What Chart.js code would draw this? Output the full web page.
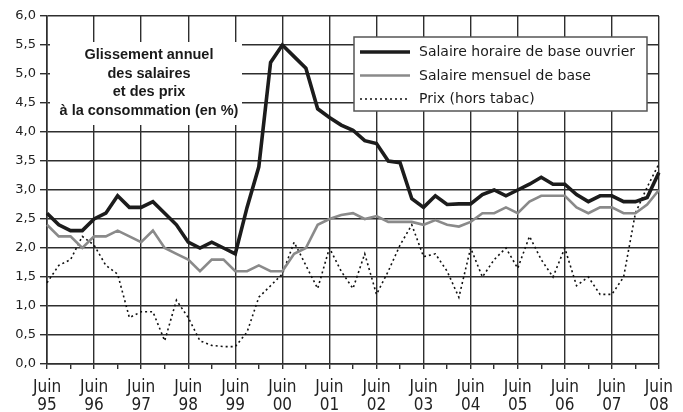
<!DOCTYPE html>
<html><head><meta charset="utf-8">
<script src="https://cdn.jsdelivr.net/npm/chart.js@4/dist/chart.umd.min.js"></script>
<style>html,body{margin:0;padding:0;background:#fff;}canvas{display:block;}</style>
</head><body>
<canvas id="c" width="683" height="412"></canvas>
<script>
const quarters = [
 '06/95','09/95','12/95',
 '03/96','06/96','09/96','12/96',
 '03/97','06/97','09/97','12/97',
 '03/98','06/98','09/98','12/98',
 '03/99','06/99','09/99','12/99',
 '03/00','06/00','09/00','12/00',
 '03/01','06/01','09/01','12/01',
 '03/02','06/02','09/02','12/02',
 '03/03','06/03','09/03','12/03',
 '03/04','06/04','09/04','12/04',
 '03/05','06/05','09/05','12/05',
 '03/06','06/06','09/06','12/06',
 '03/07','06/07','09/07','12/07',
 '03/08','06/08'
];
const monthLabel = 'Juin';
const yearLabels = ['95','96','97','98','99','00','01','02','03','04','05','06','07','08'];
const salaireHoraire = [2.6,2.4,2.3,2.3, 2.5,2.6,2.9,2.7, 2.7,2.8,2.6,2.4, 2.1,2.0,2.1,2.0,
  1.9,2.7,3.4,5.2, 5.5,5.3,5.1,4.4, 4.25,4.12,4.03,3.85, 3.8,3.5,3.47,2.85,
  2.7,2.9,2.75,2.76, 2.76,2.92,3.0,2.9, 3.0,3.1,3.22,3.1, 3.1,2.92,2.8,2.9,
  2.9,2.8,2.8,2.87, 3.3];
const salaireMensuel = [2.4,2.2,2.2,2.0, 2.2,2.2,2.3,2.2, 2.1,2.3,2.0,1.9, 1.8,1.6,1.8,1.8,
  1.6,1.6,1.7,1.6, 1.6,1.9,2.0,2.4, 2.5,2.57,2.6,2.5, 2.55,2.45,2.45,2.45,
  2.4,2.48,2.4,2.37, 2.45,2.6,2.6,2.7, 2.6,2.8,2.9,2.9, 2.9,2.7,2.6,2.7,
  2.7,2.6,2.6,2.75, 3.0];
const prixHorsTabac = [1.4,1.7,1.8,2.2, 2.05,1.7,1.55,0.8, 0.9,0.9,0.4,1.1, 0.8,0.4,0.32,0.3,
  0.3,0.55,1.15,1.35, 1.55,2.1,1.7,1.3, 2.0,1.6,1.3,1.9, 1.2,1.6,2.05,2.4,
  1.85,1.9,1.6,1.15, 2.0,1.5,1.8,2.0, 1.65,2.2,1.8,1.5, 2.0,1.35,1.5,1.2,
  1.2,1.5,2.6,3.05, 3.45];
const seriesNames = ['Salaire horaire de base ouvrier','Salaire mensuel de base','Prix (hors tabac)'];
const titleLines = ['Glissement annuel','des salaires','et des prix','à la consommation (en %)'];

const GRID = '#2e2e2e';
const CLEAR = 'rgba(0,0,0,0)';

const boxesPlugin = {
  id: 'boxes',
  beforeDatasetsDraw(chart) {
    const ctx = chart.ctx;
    const ca = chart.chartArea;
    ctx.save();
    // title box
    ctx.fillStyle = '#fff';
    ctx.fillRect(ca.left + 3, ca.top + 26, 192, 83);
    ctx.fillStyle = '#1a1a1a';
    ctx.font = 'bold 14.5px "Liberation Sans", Arial, sans-serif';
    ctx.textAlign = 'center';
    ctx.textBaseline = 'alphabetic';
    const tx = ca.left + 102;
    titleLines.forEach((t, i) => ctx.fillText(t, tx, ca.top + 43 + i * 18.5));
    // legend box
    const lx = 354, ly = 37, lw = 293, lh = 74;
    ctx.fillStyle = '#fff';
    ctx.fillRect(lx, ly, lw, lh);
    ctx.strokeStyle = '#555';
    ctx.lineWidth = 1.5;
    ctx.strokeRect(lx, ly, lw, lh);
    ctx.font = '14px "DejaVu Sans", sans-serif';
    ctx.textAlign = 'left';
    ctx.textBaseline = 'middle';
    chart.data.datasets.forEach((ds, i) => {
      const y = ly + 15 + i * 23.5;
      ctx.save();
      ctx.strokeStyle = ds.borderColor;
      ctx.lineWidth = ds.borderWidth;
      ctx.setLineDash(ds.borderDash || []);
      ctx.beginPath();
      ctx.moveTo(lx + 6, y);
      ctx.lineTo(lx + 56, y);
      ctx.stroke();
      ctx.restore();
      ctx.fillStyle = '#1a1a1a';
      ctx.fillText(ds.label, lx + 65, y + 0.5);
    });
    ctx.restore();
  }
};

new Chart(document.getElementById('c'), {
  type: 'line',
  data: {
    labels: quarters,
    datasets: [
      { label: seriesNames[0], data: salaireHoraire, borderColor: '#1c1c1c', borderWidth: 3.6, pointRadius: 0, tension: 0 },
      { label: seriesNames[1], data: salaireMensuel, borderColor: '#8a8a8a', borderWidth: 2.6, pointRadius: 0, tension: 0 },
      { label: seriesNames[2], data: prixHorsTabac, borderColor: '#111111', borderWidth: 1.6, borderDash: [2, 3], pointRadius: 0, tension: 0 }
    ]
  },
  options: {
    responsive: false,
    animation: false,
    layout: { padding: { top: 16, right: 24, left: 0, bottom: 0 } },
    plugins: { legend: { display: false }, tooltip: { enabled: false }, title: { display: false } },
    scales: {
      x: {
        type: 'category',
        offset: false,
        afterFit(s) { s.height = 48; },
        grid: {
          color: c => (c.index % 4 === 0 ? GRID : CLEAR),
          tickColor: c => (c.index % 2 === 0 ? GRID : CLEAR),
          lineWidth: 1.4,
          tickLength: 5,
          drawOnChartArea: true
        },
        border: { color: GRID, width: 1.6 },
        ticks: {
          autoSkip: false, minRotation: 0, maxRotation: 0, padding: 10,
          color: '#222',
          font: { family: '"Liberation Sans Narrow", "DejaVu Sans Condensed", sans-serif', size: 17, lineHeight: 1.06 },
          callback: (v, i) => (i % 4 === 0 ? [monthLabel, yearLabels[i / 4]] : '')
        }
      },
      y: {
        min: 0, max: 6,
        afterFit(s) { s.width = 47; },
        grid: { color: GRID, lineWidth: 1.4, tickLength: 7, tickColor: GRID },
        border: { color: GRID, width: 1.6 },
        ticks: {
          stepSize: 0.5, padding: 4, color: '#222',
          font: { family: '"DejaVu Sans", sans-serif', size: 13 },
          callback: v => v.toFixed(1).replace('.', ',')
        }
      }
    }
  },
  plugins: [boxesPlugin]
});
</script>
</body></html>
